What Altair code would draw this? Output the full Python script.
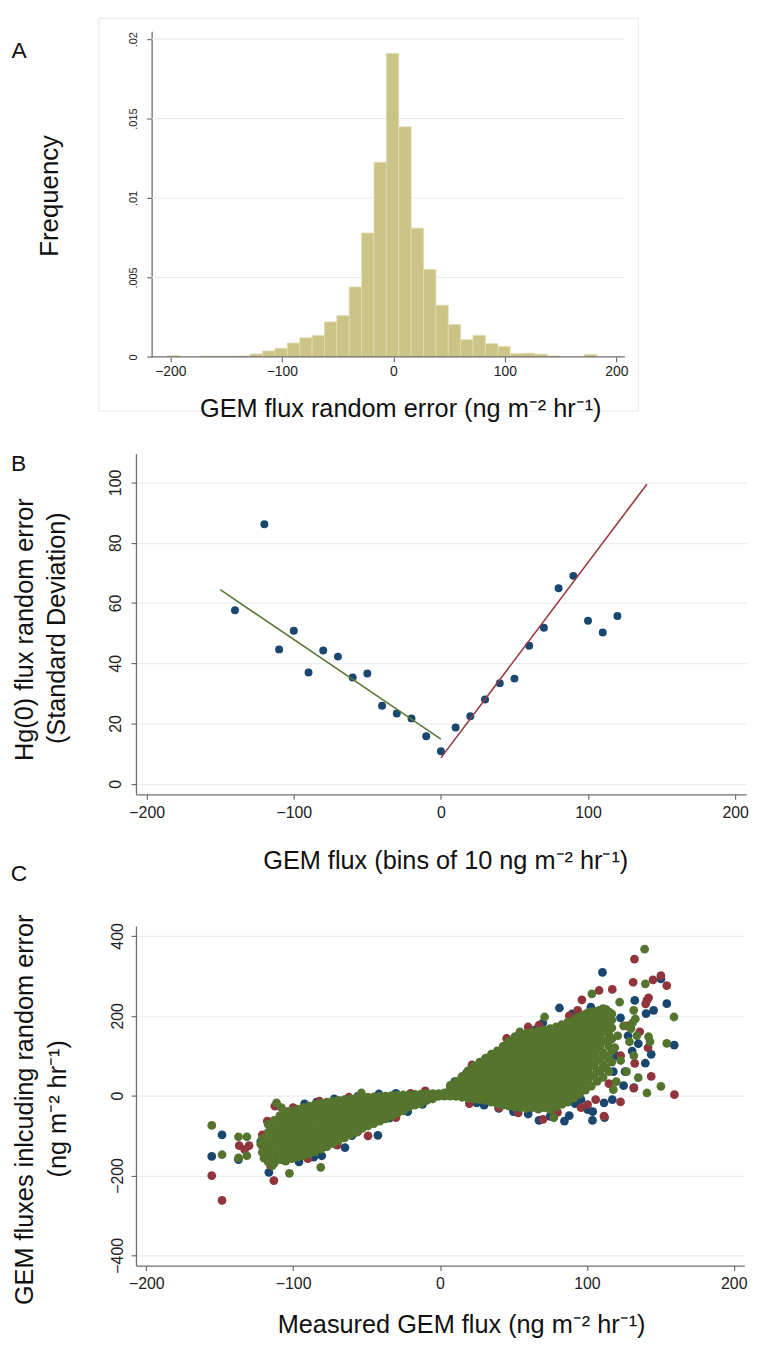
import altair as alt
import pandas as pd

FONT = "Liberation Sans"
NAVY = "#1a476f"
MAROON = "#90353b"
GREEN = "#55752f"
KHAKI = "#cbc486"
AXIS_C = "#6e6e6e"
GRID_C = "#e6eef2"
SUP = " (ng m\u207b\u00b2 hr\u207b\u00b9)"

# ---------------- Panel A : histogram ----------------
hist_left = [-203.0, -172.8, -161.7, -150.6, -139.5, -128.4, -117.3, -106.2, -95.1, -84.0,
             -72.9, -61.8, -50.7, -39.6, -28.5, -17.4, -6.3, 4.8, 15.9, 27.0,
             38.1, 49.2, 60.3, 71.4, 82.5, 93.6, 104.7, 115.8, 126.9, 138.0, 171.3]
hist_right = [-191.9, -161.7, -150.6, -139.5, -128.4, -117.3, -106.2, -95.1, -84.0, -72.9,
              -61.8, -50.7, -39.6, -28.5, -17.4, -6.3, 4.8, 15.9, 27.0, 38.1,
              49.2, 60.3, 71.4, 82.5, 93.6, 104.7, 115.8, 126.9, 138.0, 149.1, 182.4]
hist_freq = [0.00008, 0.00005, 0.00005, 0.00005, 0.00006, 0.00018, 0.00037, 0.00054, 0.00087, 0.0012,
             0.00135, 0.0022, 0.0026, 0.0044, 0.0078, 0.01225, 0.0191, 0.01448, 0.0081, 0.0055,
             0.00325, 0.00204, 0.00108, 0.00135, 0.00083, 0.00065, 0.0002, 0.00023, 0.00017, 0.00006, 0.00015]
ticks_x = [-200, -100, 0, 100, 200]
ticks_yA = [0, 0.005, 0.01, 0.015, 0.02]
grid_yA = [0.005, 0.01, 0.015, 0.02]

# ---------------- Panel B : binned SD ----------------
bin_x = [-140, -120, -110, -100, -90, -80, -70, -60, -50, -40, -30, -20, -10, 0,
         10, 20, 30, 40, 50, 60, 70, 80, 90, 100, 110, 120]
bin_sd = [57.6, 86.1, 44.6, 50.8, 36.9, 44.2, 42.2, 35.3, 36.6, 25.9, 23.3, 21.7, 15.8, 10.8,
          18.7, 22.4, 28.0, 33.4, 34.9, 45.8, 51.8, 64.9, 69.0, 54.1, 50.2, 55.7]
fit_neg_x = [-150, 0]
fit_neg_y = [64.4, 14.8]
fit_pos_x = [0, 140]
fit_pos_y = [8.6, 99.4]
ticks_yB = [0, 20, 40, 60, 80, 100]

# ---------------- Panel C : scatter (3 realisations) ----------------
green_cols = [
    (-121, [-108, -126, -142]),
    (-117, [-72, -92, -112, -130, -150, -166]),
    (-113, [-62, -82, -100, -118, -138, -158, -170]),
    (-109, [-50, -68, -86, -104, -124, -142, -160]),
    (-105, [-42, -58, -78, -96, -114, -132, -150, -164]),
    (-101, [-38, -54, -72, -90, -108, -126, -144, -158]),
    (-97, [-34, -50, -68, -86, -104, -122, -140, -154]),
    (-93, [-30, -46, -64, -82, -100, -118, -136, -150]),
    (-89, [-26, -42, -60, -78, -96, -114, -132, -145]),
    (-85, [-22, -38, -56, -74, -92, -110, -128, -140]),
    (-81, [-19, -34, -52, -70, -88, -106, -122, -134]),
    (-77, [-16, -30, -48, -66, -84, -100, -116, -128]),
    (-73, [-14, -28, -44, -62, -78, -94, -110, -120]),
    (-69, [-12, -26, -42, -58, -74, -90, -104, -112]),
    (-65, [-10, -22, -38, -54, -70, -84, -98, -106]),
    (-61, [-8, -20, -34, -50, -64, -78, -92, -98]),
    (-57, [-6, -18, -32, -46, -60, -74, -86, -92]),
    (-53, [-5, -16, -30, -44, -58, -70, -82]),
    (-49, [-4, -14, -28, -42, -54, -66, -76]),
    (-45, [-3, -12, -24, -36, -48, -60, -70]),
    (-41, [-2, -10, -22, -34, -46, -56, -64]),
    (-37, [-1, -8, -20, -30, -42, -52, -58]),
    (-33, [0, -8, -18, -28, -38, -48, -52]),
    (-29, [1, -6, -16, -26, -36, -44]),
    (-25, [2, -4, -14, -24, -32, -38]),
    (-21, [2, -4, -12, -20, -28]),
    (-17, [3, -3, -10, -18, -24]),
    (-13, [4, -1, -8, -15, -20]),
    (-9, [5, 0, -6, -12]),
    (-5, [5, 1, -4, -8]),
    (-1, [5, 2, -2]),
    (3, [7, 3, -1]),
    (7, [-1, 8, 18, 26]),
    (11, [-2, 8, 18, 28, 36]),
    (15, [-4, 6, 16, 28, 40, 48]),
    (19, [-6, 4, 16, 28, 42, 54, 62]),
    (23, [-8, 2, 14, 26, 40, 54, 66, 74]),
    (27, [-10, 0, 12, 24, 38, 52, 66, 78, 84]),
    (31, [-12, -2, 10, 22, 36, 50, 64, 76, 88, 94]),
    (35, [-16, -4, 8, 22, 36, 50, 64, 78, 92, 104]),
    (39, [-20, -6, 6, 20, 34, 48, 62, 76, 90, 104, 112]),
    (43, [-24, -10, 4, 18, 32, 46, 60, 74, 88, 102, 116, 124]),
    (47, [-26, -12, 2, 16, 30, 44, 58, 72, 86, 100, 114, 128, 136]),
    (51, [-28, -14, 0, 14, 28, 42, 56, 70, 84, 98, 112, 126, 140, 148]),
    (55, [-30, -16, -2, 12, 26, 40, 54, 68, 82, 96, 110, 124, 138, 152]),
    (59, [-32, -18, -4, 10, 24, 38, 52, 66, 80, 94, 108, 122, 136, 150, 156]),
    (63, [-30, -16, -2, 12, 26, 40, 54, 68, 82, 96, 110, 124, 138, 150, 160]),
    (67, [-34, -18, -4, 10, 24, 38, 52, 66, 80, 94, 108, 122, 136, 150, 162]),
    (71, [-30, -14, 0, 14, 28, 42, 56, 70, 84, 98, 112, 126, 140, 154, 164]),
    (75, [-36, -18, -2, 14, 30, 46, 62, 78, 94, 110, 126, 142, 156, 168]),
    (79, [-28, -12, 4, 20, 36, 52, 68, 84, 100, 116, 132, 148, 162, 172]),
    (83, [-22, -6, 10, 26, 42, 58, 74, 90, 106, 122, 138, 154, 168, 178]),
    (87, [-16, 0, 16, 32, 48, 64, 80, 96, 112, 128, 144, 160, 174, 184]),
    (91, [-6, 12, 30, 48, 64, 80, 96, 112, 128, 144, 160, 176, 188]),
    (93, [20, 40, 58, 74, 90, 106, 122, 138, 154, 170, 184, 194]),
    (95, [4, 24, 44, 62, 80, 98, 114, 130, 146, 162, 178, 190, 198]),
    (97, [30, 52, 72, 90, 108, 124, 140, 156, 172, 188, 200]),
    (99, [14, 36, 58, 80, 100, 118, 136, 152, 168, 184, 196, 204]),
    (101, [40, 64, 88, 110, 130, 148, 166, 184, 198, 208]),
    (103, [24, 50, 76, 100, 120, 140, 158, 176, 192, 204, 210]),
    (105, [50, 78, 102, 126, 146, 166, 184, 198, 210]),
    (107, [36, 64, 90, 114, 136, 156, 174, 190, 202, 212]),
    (109, [60, 92, 122, 148, 170, 188, 204, 214]),
    (111, [46, 78, 108, 136, 160, 180, 196, 208, 218]),
    (113, [70, 100, 136, 166, 188, 204, 216]),
    (115, [60, 92, 124, 152, 176, 196, 210]),
    (117, [84, 112, 142, 170, 190, 205]),
]
green_out = [(119, 120), (121, 150), (123, 88), (125, 175), (127, 60), (129, 135), (131, 182),
             (132, 100), (134, 150), (135, 45), (120, 35), (118, 15),
             (139.3, 367), (139.8, 280), (159.3, 197), (154.4, 131), (140.9, 6.7), (150.4, 23.3),
             (122.3, 234.5), (131.9, 213.7), (103.4, 255), (71.2, 197), (54.4, 160), (77.5, -55.4),
             (142, 147.6), (143, 135), (130, 168), (133, 192),
             (-155.4, -74.5), (-148.4, -148), (-137.2, -103), (-131.5, -103), (-137.2, -156),
             (-131.5, -150.6), (-111.3, -18), (-102.5, -194.5), (-81.2, -179.6), (-53.5, 6.7),
             (-114.2, -175.5), (-119.8, -156.5), (-122, -121.7), (-108, -30)]
blue_pts = [(-155.4, -152.3), (-148.4, -98.4), (-137.2, -160), (-116.5, -192), (-92.2, -20.6),
            (-41.6, 4.2), (-42.3, -99.4), (-64.7, -130), (-80.5, -150.6), (-99.6, -154.8),
            (-107.5, -55.4), (-120, -128), (-118, -140), (-86, -154), (-96, -166), (-110, -150),
            (-72, -8), (-56, -2), (-84, -16), (-30, 6), (-22, -40), (-12, -22), (-34, -56),
            (-60, -100), (-122, -115),
            (10, 35), (18, 56), (25, -18), (30, -24), (40, -32), (50, -40), (60, -46),
            (67.4, -62.1), (75, -52), (84.7, -63.6), (103.8, -62), (100.5, -34.8), (111.7, -18),
            (117.3, -10), (112, -55), (45, 120), (64.5, 164), (70, 182), (81.3, 219.6), (90, 205),
            (102.7, 222), (122.9, 194.8), (110.6, 309), (150.4, 292.4), (154.4, 230.3),
            (159.5, 126.7), (132.6, 238.5), (140.3, 205.5), (143.8, 103.6), (139.8, 81.2),
            (130.8, 111.8), (128, 150), (135, 130), (125, 25), (118, 60), (120, 100), (126, 60),
            (132, 20), (104, -40), (92, -20), (88, -50), (96, -10), (145.4, 213.7)]
red_pts = [(-155.4, -200.3), (-148.4, -262.4), (-136.7, -125), (-130, -125), (-133, -135),
           (-113.1, -212.7), (-112.4, -26.4), (-117.6, -63.6), (-115.3, -175.5), (-49, -100.9),
           (-42.3, -5.7), (-62, -4), (-82, -14), (-100, -30), (-70, -124), (-90, -158), (-56, -90),
           (-30, -55), (-121, -98), (-119, -120), (-106, -162), (-20, 6), (-10, 12), (-104, -40),
           (132.4, 342), (150.4, 300.6), (154.4, 275.8), (131.5, 284), (117.3, 266), (108.3, 263.4),
           (96.6, 240), (140.9, 238.5), (159.6, 2.5), (143.8, 48.2), (122.9, -15.7), (131.9, 19),
           (111.7, -51.3), (100.5, -22.4), (70.1, -59.6), (53.3, -43), (93.7, 213.7), (67.4, 176.4),
           (45.4, 143.4), (21.8, 77), (141.6, 120), (132.6, 81), (35, 100), (15, 46), (88, 200),
           (60, 172), (20, -20), (40, -30), (80, -42), (127, 175), (136, 160), (123, 100),
           (115, 30), (106, -10), (96, -30), (140, 230), (142, 245), (145, 290)]
ticks_yC = [-400, -200, 0, 200, 400]

# all three plot areas share one left edge (page x = 136.7); panel A's y axis is pushed in
X0 = 136.7
A_SHIFT = 152.5 - X0
WA = 629.6 - X0


def axis(**kw):
    base = dict(domainColor=AXIS_C, domainWidth=1.3, tickColor=AXIS_C, tickWidth=1.2, tickSize=5,
                labelFont=FONT, labelColor="#222222", labelFlush=False, labelOverlap=False,
                gridColor=GRID_C, gridWidth=1.2, title="")
    base.update(kw)
    return alt.Axis(**base)


one = pd.DataFrame({"t": [""]})


def label(txt, x, y, size=25.5, angle=0):
    kw = dict(font=FONT, fontSize=size, color="#111111", align="center", baseline="middle")
    if angle:
        kw["angle"] = angle
    return alt.Chart(pd.DataFrame({"t": [txt]})).mark_text(**kw).encode(
        text="t:N", x=alt.value(x), y=alt.value(y))


def bound_rule(y1, y2):
    return alt.Chart(one).mark_rule(opacity=0, strokeWidth=1, color="white").encode(
        x=alt.value(8 - X0), y=alt.value(y1), y2=alt.value(y2))


# ---------- panel A ----------
HA = 328.3
scAx = alt.Scale(domain=[-216.8 - A_SHIFT / 1.125, 207.6], nice=False, zero=False)
scAy = alt.Scale(domain=[0, 0.0205], nice=False)
dfA = pd.DataFrame({"left": hist_left, "right": hist_right, "freq": hist_freq})
xA = alt.X("left:Q", scale=scAx,
           axis=axis(values=ticks_x, grid=False, domain=False, labelFontSize=14, labelPadding=3))
yA = alt.Y("freq:Q", scale=scAy,
           axis=axis(values=ticks_yA, grid=False, offset=-A_SHIFT, labelFontSize=11, labelAngle=270,
                     labelAlign="center", labelBaseline="alphabetic", labelPadding=10,
                     labelExpr="datum.value == 0 ? '0' : substring(format(datum.value, '.3~f'), 1)"))
gridA = alt.Chart(pd.DataFrame({"freq": grid_yA})).mark_rule(color=GRID_C, strokeWidth=1.2).encode(
    y=yA, x=alt.value(A_SHIFT), x2=alt.value(WA))
barsA = alt.Chart(dfA).mark_bar(color=KHAKI, stroke="#e0dcb0", strokeWidth=0.8).encode(
    x=xA, x2="right:Q", y=yA, y2=alt.datum(0))
baseA = alt.Chart(one).mark_rule(color=AXIS_C, strokeWidth=1.3).encode(
    x=alt.value(A_SHIFT), x2=alt.value(WA), y=alt.value(HA))
frameA = alt.Chart(one).mark_rect(fillOpacity=0, stroke="#e3e9ed", strokeWidth=1).encode(
    x=alt.value(99.3 - X0), x2=alt.value(643 - X0), y=alt.value(-13), y2=alt.value(383))
panelA = alt.layer(
    frameA, gridA, barsA, baseA,
    label("A", 18.8 - X0, 19.5, size=23),
    label("GEM flux random error" + SUP, 403.6 - X0, 380.7),
    label("Frequency", 50 - X0, 166, size=26, angle=270),
    bound_rule(-18, 414),
).properties(width=WA, height=HA)

# ---------- panel B ----------
scBx = alt.Scale(domain=[-207.3, 207.4], nice=False, zero=False)
scBy = alt.Scale(domain=[-3.5, 109.5], nice=False, zero=False)
xB = alt.X("x:Q", scale=scBx,
           axis=axis(values=ticks_x, grid=False, labelFontSize=16, labelPadding=5.5))
yB = alt.Y("y:Q", scale=scBy,
           axis=axis(values=ticks_yB, grid=True, labelFontSize=16, labelAngle=270,
                     labelAlign="center", labelBaseline="alphabetic", labelPadding=10.6))
ptsB = alt.Chart(pd.DataFrame({"x": bin_x, "y": bin_sd})).mark_circle(
    size=64, color=NAVY, opacity=1).encode(x=xB, y=yB)
lineG = alt.Chart(pd.DataFrame({"x": fit_neg_x, "y": fit_neg_y})).mark_line(
    color="#5a7a35", strokeWidth=1.6).encode(x=xB, y=yB)
lineR = alt.Chart(pd.DataFrame({"x": fit_pos_x, "y": fit_pos_y})).mark_line(
    color="#9a3a40", strokeWidth=1.6).encode(x=xB, y=yB)
panelB = alt.layer(
    ptsB, lineG, lineR,
    label("B", 18.3 - X0, 10.3, size=23),
    label("C", 18.7 - X0, 424, size=23),
    label("GEM flux (bins of 10 ng m\u207b\u00b2 hr\u207b\u00b9)", 449 - X0, 410.3),
    label("Hg(0) flux random error", 25 - X0, 177.3, angle=270),
    label("(Standard Deviation)", 57 - X0, 175.8, angle=270),
    bound_rule(-11.7, 438.3),
).properties(width=751.7 - X0, height=343.3)

# ---------- panel C ----------
gx, gy = [], []
for cx, ys in green_cols:
    for v in ys:
        gx.append(cx)
        gy.append(v)
for px, py in green_out:
    gx.append(px)
    gy.append(py)
dfG = pd.DataFrame({"x": gx, "y": gy})
dfBl = pd.DataFrame({"x": [p[0] for p in blue_pts], "y": [p[1] for p in blue_pts]})
dfRd = pd.DataFrame({"x": [p[0] for p in red_pts], "y": [p[1] for p in red_pts]})

scCx = alt.Scale(domain=[-207, 207.2], nice=False, zero=False)
scCy = alt.Scale(domain=[-425.5, 425], nice=False, zero=False)
xC = alt.X("x:Q", scale=scCx,
           axis=axis(values=ticks_x, grid=False, labelFontSize=16, labelPadding=5.5))
yC = alt.Y("y:Q", scale=scCy,
           axis=axis(values=ticks_yC, grid=True, labelFontSize=16, labelAngle=270,
                     labelAlign="center", labelBaseline="alphabetic", labelPadding=8.3))
blueC = alt.Chart(dfBl).mark_circle(size=78, color=NAVY, opacity=1).encode(x=xC, y=yC)
redC = alt.Chart(dfRd).mark_circle(size=78, color=MAROON, opacity=1).encode(x=xC, y=yC)
greenC = alt.Chart(dfG).mark_circle(size=78, color=GREEN, opacity=1).encode(x=xC, y=yC)
panelC = alt.layer(
    blueC, redC, greenC,
    label("Measured GEM flux" + SUP, 465 - X0, 402.3),
    label("GEM fluxes inlcuding random error", 25 - X0, 185.3, angle=270),
    label("(ng m\u207b\u00b2 hr\u207b\u00b9)", 58 - X0, 184.3, angle=270),
    bound_rule(-36.7, 414.8),
).properties(width=750 - X0, height=342.3)

chart = alt.ConcatChart(
    concat=[panelA, panelB, panelC], columns=1, spacing=0, align="none", bounds="full",
    padding=0, background="white",
).configure_view(strokeWidth=0)

chart.save("out.html", embed_options={"renderer": "svg", "actions": False})
